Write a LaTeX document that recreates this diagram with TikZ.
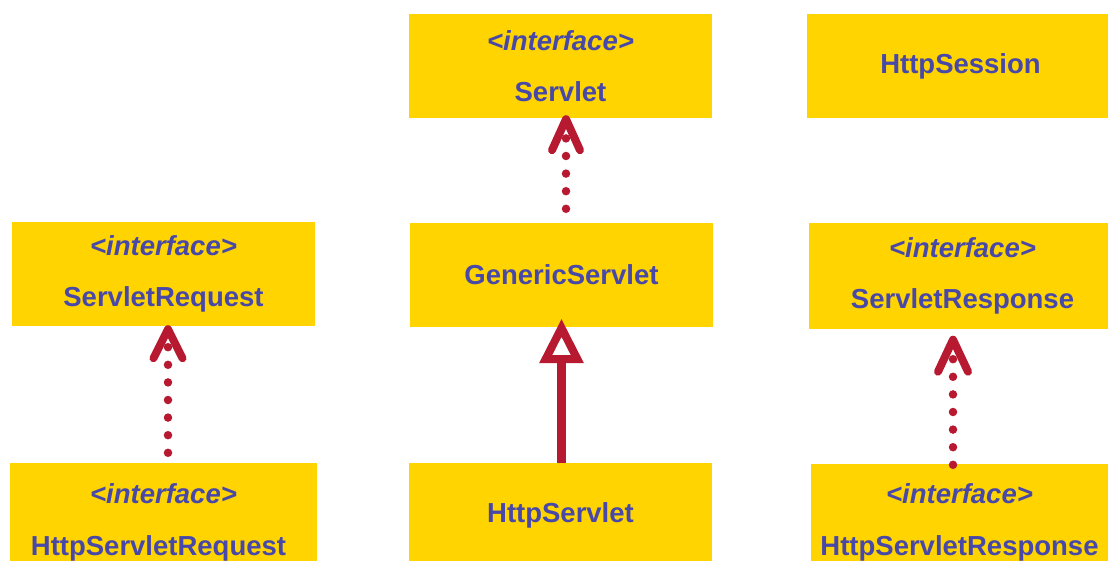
\documentclass[tikz,border=0pt]{standalone}
\usepackage{fontspec}
\setmainfont{Liberation Sans}
\usetikzlibrary{calc}
\definecolor{boxyellow}{RGB}{255,212,0}
\definecolor{labelblue}{RGB}{72,72,168}
\definecolor{linkred}{RGB}{183,26,48}
\newcommand\ifacetag{\textit{<interface>}}
\begin{document}
\begin{tikzpicture}[x=1pt,y=-1pt,
  cls/.style={fill=boxyellow, text=labelblue, inner sep=0pt, align=center,
    font=\fontsize{27.5}{51.5}\selectfont\bfseries},
  dots/.style={draw=linkred, line width=8.5pt, line cap=round,
    dash pattern=on 0pt off 17.6pt},
  openhead/.style={draw=linkred, line width=8pt, line cap=round, line join=round},
  shaft/.style={draw=linkred, line width=9pt},
  hollowhead/.style={draw=linkred, fill=white, line width=8pt, line join=miter}]
\useasboundingbox (0,0) rectangle (1108,561);
\clip (0,0) rectangle (1108,561);

% classes and interfaces
\node[cls, minimum width=303pt, minimum height=104pt] (Servlet) at (560.5,66) {\ifacetag\\Servlet};
\node[cls, minimum width=307pt, minimum height=104pt] (HttpSession) at (960.5,66) {HttpSession};
\node[cls, minimum width=303pt, minimum height=104pt] (ServletRequest) at (163.5,274) {\ifacetag\\ServletRequest};
\node[cls, minimum width=303pt, minimum height=104pt] (GenericServlet) at (561.5,275) {GenericServlet};
\node[cls, minimum width=307pt, minimum height=105pt] (ServletResponse) at (962.5,276) {\ifacetag\\ServletResponse};
\node[cls, minimum width=307pt, minimum height=119pt] (HttpServletRequest) at (163.5,522.5) {\ifacetag\\\hspace*{-10pt}HttpServletRequest};
\node[cls, minimum width=303pt, minimum height=104pt] (HttpServlet) at (560.5,515) {HttpServlet};
\node[cls, minimum width=297pt, minimum height=117pt] (HttpServletResponse) at (959.5,522.5) {\ifacetag\\HttpServletResponse};

% realization: HttpServletRequest -> ServletRequest
\coordinate (reqtip) at ($(ServletRequest.south)+(4.5,3)$);
\draw[dots] ($(HttpServletRequest.north)+(4.5,-10)$) -- ($(reqtip)+(0,17)$);
\draw[openhead] ($(reqtip)+(-14.5,29)$) -- (reqtip) -- ($(reqtip)+(14.5,29)$);

% realization: GenericServlet -> Servlet
\coordinate (srvtip) at ($(Servlet.south)+(5.5,1)$);
\draw[dots] ($(GenericServlet.north)+(4.5,-14)$) -- ($(srvtip)+(0,18)$);
\draw[openhead] ($(srvtip)+(-14,31)$) -- (srvtip) -- ($(srvtip)+(14,31)$);

% realization: HttpServletResponse -> ServletResponse
\coordinate (resptip) at ($(ServletResponse.south)+(-9.5,11)$);
\draw[dots] ($(HttpServletResponse.north)+(-6.5,1)$) -- ($(resptip)+(0,18)$);
\draw[openhead] ($(resptip)+(-15,32)$) -- (resptip) -- ($(resptip)+(15,32)$);

% generalization: HttpServlet -> GenericServlet
\coordinate (inhtip) at ($(GenericServlet.south)+(0,0.8)$);
\draw[shaft] (HttpServlet.north -| inhtip) -- ($(inhtip)+(0,33)$);
\draw[hollowhead] (inhtip) -- ++(-15.9,31.2) -- ++(31.8,0) -- cycle;
\end{tikzpicture}
\end{document}
